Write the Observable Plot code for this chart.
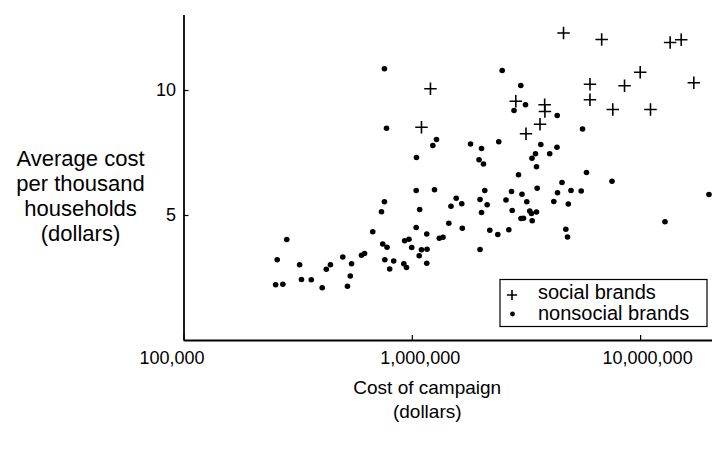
<!DOCTYPE html>
<html><head><meta charset="utf-8">
<script src="https://cdn.jsdelivr.net/npm/d3@7"></script>
<script src="https://cdn.jsdelivr.net/npm/@observablehq/plot@0.6"></script>
<style>
body{margin:0;background:#fff;}
#wrap{position:relative;width:712px;height:451px;font-family:"Liberation Sans",Arial,Helvetica,sans-serif;}
</style></head><body><div id="wrap"></div>
<script>
// Social brands: campaign cost (dollars) and average cost per thousand households (dollars)
const socialCost = [1201000,1097000,2840000,3800000,3810000,3626000,3148000,4596000,6753000,13470000,15060000,9960000,6003000,8504000,17100000,6000000,7554000,11050000];
const socialCPM  = [10.07,8.53,9.57,9.43,9.16,8.65,8.27,12.30,12.04,11.92,12.03,10.73,10.25,10.19,10.31,9.63,9.24,9.24];

// Nonsocial brands
const nonsocialCost = [755000,771000,1043000,1230000,1276000,2476000,2987000,3132000,2790000,4312000,5566000,1799000,2010000,2392000,3655000,4303000,1960000,2050000,3464000,3344000,3998000,3499000,2919000,5794000,7493000,
1040000,1251000,755000,733000,1077000,1557000,1647000,1477000,1445000,1656000,671000,1040000,1157000,926000,967000,1313000,1363000,742000,775000,994000,1097000,1160000,1072000,599000,618000,758000,829000,918000,943000,796000,1157000,
4526000,3524000,4325000,4956000,5493000,4167000,4823000,2077000,2720000,3023000,1980000,2573000,3173000,2128000,2010000,2739000,3270000,3327000,3499000,2993000,3069000,3351000,2185000,2368000,2647000,4704000,4785000,1980000,12790000,19930000,
282000,256000,321000,252000,271000,327000,361000,403000,420000,438000,496000,542000,535000,520000];
const nonsocialCPM = [10.87,8.49,7.32,7.80,8.04,10.80,10.20,9.43,9.20,9.00,8.46,7.86,7.68,7.95,7.84,7.73,7.23,7.06,7.47,7.29,7.47,6.95,6.63,6.72,6.37,
6.00,6.03,5.55,5.15,5.24,5.69,5.47,5.37,4.69,4.49,4.35,4.52,4.26,3.99,4.05,4.09,4.13,3.86,3.73,3.72,3.63,3.65,3.39,3.41,3.48,3.23,3.18,3.07,2.92,2.86,3.09,
6.32,6.09,5.91,6.00,5.98,5.56,5.46,6.00,5.96,5.85,5.64,5.62,5.55,5.43,5.12,5.20,5.18,5.08,5.14,4.88,4.89,4.79,4.41,4.24,4.43,4.45,4.14,3.64,4.75,5.84,
4.04,3.23,3.03,2.23,2.25,2.44,2.43,2.11,2.85,3.03,3.34,3.07,2.58,2.17];

const xTicks = [100000, 1000000, 10000000];
const yTicks = [5, 10];
const xDomain = [100000, 20650000];
const yDomain = [0, 13];
const xTitle = "Cost of campaign\n(dollars)";
const yTitle = "Average cost\nper thousand\nhouseholds\n(dollars)";
const legendLabels = ["social brands", "nonsocial brands"];

const social = socialCost.map((x, i) => ({x, y: socialCPM[i]}));
const nonsocial = nonsocialCost.map((x, i) => ({x, y: nonsocialCPM[i]}));

const W = 712, H = 451, mL = 183.5, mR = 0, mT = 15, mB = 111;
const font = '"Liberation Sans", Arial, Helvetica, sans-serif';
// small horizontal nudges of the x tick labels, as typeset in the original
const xLabelNudge = [-12, 8, 7];

const chart = Plot.plot({
  width: W, height: H,
  marginLeft: mL, marginRight: mR, marginTop: mT, marginBottom: mB,
  style: {fontFamily: font, fontSize: "18px", color: "#000", background: "#fff"},
  x: {type: "log", domain: xDomain},
  y: {domain: yDomain},
  marks: [
    Plot.ruleX([xDomain[0]], {stroke: "#000", strokeWidth: 1.8}),
    Plot.ruleY([yDomain[0]], {stroke: "#000", strokeWidth: 1.8}),
    Plot.tickX(xTicks, {x: d => d, stroke: "#000", strokeWidth: 1.2, insetTop: (H - mT - mB) - 5}),
    Plot.tickY(yTicks, {y: d => d, stroke: "#000", strokeWidth: 1.2, insetRight: (W - mL - mR) - 5}),
    ...xTicks.map((t, i) => Plot.axisX([t], {tickSize: 0, tickPadding: 11, dx: xLabelNudge[i], tickFormat: d3.format(","), fontSize: 18, label: null})),
    Plot.axisY(yTicks, {tickSize: 0, tickPadding: 8, fontSize: 18, label: null}),
    Plot.dot(nonsocial, {x: "x", y: "y", r: 2.8, fill: "#000", stroke: null}),
    Plot.dot(social, {x: "x", y: "y", symbol: "plus", r: 4.1, stroke: "#000", strokeWidth: 1.6}),
    Plot.text([xTitle], {frameAnchor: "bottom", dx: -21, dy: 57.5, lineAnchor: "middle", lineHeight: 1.3, fontSize: 19}),
    Plot.text([yTitle], {frameAnchor: "left", dx: -103.5, dy: 17.5, textAnchor: "middle", lineAnchor: "middle", lineHeight: 1.14, fontSize: 22})
  ]
});
document.getElementById("wrap").appendChild(chart);

// Legend overlay
const leg = d3.select("#wrap").append("svg")
  .style("position", "absolute").style("left", "0px").style("top", "0px")
  .attr("width", W).attr("height", H).style("pointer-events", "none")
  .attr("font-family", font);
leg.append("rect").attr("x", 500).attr("y", 279.5).attr("width", 207).attr("height", 47)
  .attr("fill", "#fff").attr("stroke", "#000").attr("stroke-width", 1.2);
leg.append("path").attr("d", d3.symbol(d3.symbolPlus, 36)())
  .attr("transform", "translate(512,295)").attr("fill", "none").attr("stroke", "#000").attr("stroke-width", 1.6);
leg.append("circle").attr("cx", 512.5).attr("cy", 314).attr("r", 2.4).attr("fill", "#000");
leg.selectAll("text.lbl").data(legendLabels).join("text").attr("class", "lbl")
  .attr("x", 538).attr("y", (d, i) => 299 + i * 21).attr("font-size", 20).attr("fill", "#000").text(d => d);
</script>
</body></html>
